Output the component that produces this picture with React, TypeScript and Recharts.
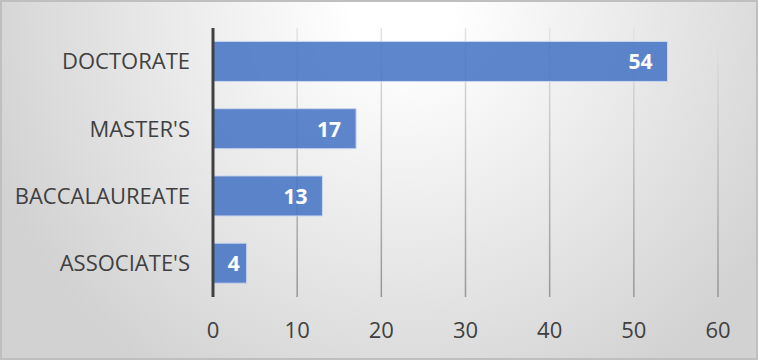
import React from "react";
import { BarChart, Bar, XAxis, YAxis, CartesianGrid, LabelList } from "recharts";

const degrees = ["DOCTORATE", "MASTER'S", "BACCALAUREATE", "ASSOCIATE'S"];
const counts = [54, 17, 13, 4];
const xTicks = [0, 10, 20, 30, 40, 50, 60];

const data = degrees.map((name, i) => ({ name, value: counts[i] }));

const FONT = "'Open Sans', sans-serif";
const TEXT = "#404040";

// value labels sit inside the bar end, small bars pull them in closer
const BarValue = (props: any) => {
  const { x, y, width, height, value } = props;
  const pad = width > 60 ? 15 : 7;
  return (
    <text
      x={x + width - pad}
      y={y + height / 2}
      textAnchor="end"
      dominantBaseline="central"
      fill="#ffffff"
      fontWeight="bold"
      fontSize={21}
      fontFamily={FONT}
    >
      {value}
    </text>
  );
};

export default function App() {
  return (
    <div
      style={{
        position: "absolute",
        left: 0,
        top: 0,
        width: 758,
        height: 360,
        background:
          "radial-gradient(ellipse 58% 125% at 53% 0%, #ffffff 12%, #d2d2d2 100%)",
        boxShadow: "inset 0 0 0 2px #bfbfbf",
      }}
    >
      <BarChart
        width={758}
        height={360}
        data={data}
        layout="vertical"
        margin={{ top: 28, right: 40, bottom: 23, left: 0 }}
        barCategoryGap="20%"
      >
        <defs>
          <linearGradient id="gridFade" gradientUnits="userSpaceOnUse" x1="0" y1="28" x2="0" y2="297">
            <stop offset="0%" stopColor="#e4e4e4" />
            <stop offset="100%" stopColor="#969696" />
          </linearGradient>
        </defs>
        <CartesianGrid horizontal={false} stroke="url(#gridFade)" strokeWidth={1.5} />
        <XAxis
          type="number"
          domain={[0, 60]}
          ticks={xTicks}
          height={40}
          axisLine={false}
          tickLine={false}
          tickSize={0}
          tickMargin={25}
          tick={{ fill: TEXT, fontSize: 22, fontFamily: FONT }}
        />
        <YAxis
          type="category"
          dataKey="name"
          width={213}
          axisLine={{ stroke: "#404040", strokeWidth: 3 }}
          tickLine={false}
          tickSize={0}
          tickMargin={23}
          tick={{ fill: TEXT, fontSize: 22, fontFamily: FONT }}
        />
        <Bar
          dataKey="value"
          fill="#4472c4"
          fillOpacity={0.86}
          stroke="#c9d6ee"
          strokeWidth={1}
          isAnimationActive={false}
        >
          <LabelList dataKey="value" content={BarValue} />
        </Bar>
      </BarChart>
    </div>
  );
}
